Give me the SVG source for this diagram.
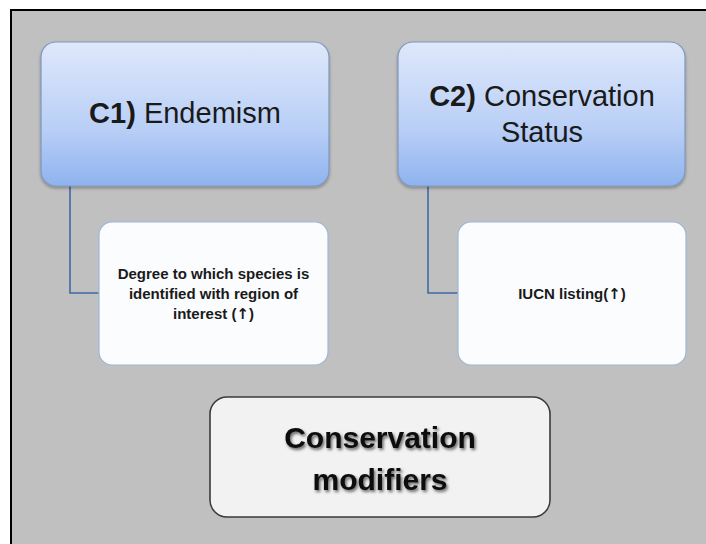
<svg xmlns="http://www.w3.org/2000/svg" width="706" height="544" viewBox="0 0 706 544">
<defs>
<linearGradient id="blueGrad" x1="0" y1="0" x2="0" y2="1">
<stop offset="0" stop-color="#dfe8fb"/>
<stop offset="0.6" stop-color="#b9cff6"/>
<stop offset="1" stop-color="#8fb3ef"/>
</linearGradient>
<filter id="boxShadow" x="-10%" y="-10%" width="120%" height="125%">
<feDropShadow dx="0" dy="2" stdDeviation="1.5" flood-color="#000" flood-opacity="0.3"/>
</filter>
<filter id="textShadow" x="-10%" y="-20%" width="120%" height="150%">
<feDropShadow dx="1.5" dy="2" stdDeviation="1.6" flood-color="#000" flood-opacity="0.6"/>
</filter>
<style>
.head{fill:url(#blueGrad);stroke:#7d97bd;stroke-width:1.2;filter:url(#boxShadow);}
.child{fill:#fbfcfe;stroke:#9fb6d6;stroke-width:1.2;}
.title{fill:#f2f2f2;stroke:#3a3a3a;stroke-width:1.6;}
.headtxt{font-family:"Liberation Sans",Arial,sans-serif;font-size:29px;fill:#1a1a1a;text-anchor:middle;}
.childtxt{font-family:"Liberation Sans",Arial,sans-serif;font-size:15px;font-weight:bold;fill:#1a1a1a;text-anchor:middle;}
.arrow{font-family:"DejaVu Sans",sans-serif;font-weight:bold;}
.titletxt{font-family:"Liberation Sans",Arial,sans-serif;font-size:30px;font-weight:bold;fill:#111;text-anchor:middle;filter:url(#textShadow);}
.conn{fill:none;stroke:#3e6aa6;stroke-width:1.6;}
</style>
</defs>
<rect x="0" y="0" width="706" height="544" fill="#ffffff"/>
<rect x="11" y="10" width="720" height="560" fill="#c0c0c0" stroke="#000" stroke-width="2"/>

<g id="connectors">
<path class="conn" d="M70,186 V293 H99"/>
<path class="conn" d="M428,186 V293 H458"/>
</g>

<g id="c1">
<rect class="head" x="41" y="42" width="288" height="144" rx="15"/>
<text class="headtxt" x="185" y="123"><tspan font-weight="bold">C1)</tspan> Endemism</text>
</g>

<g id="c2">
<rect class="head" x="398" y="42" width="287" height="144" rx="15"/>
<text class="headtxt" x="542" y="106"><tspan font-weight="bold">C2)</tspan> Conservation</text>
<text class="headtxt" x="542" y="142">Status</text>
</g>

<g id="c1-detail">
<rect class="child" x="99" y="222" width="229" height="143" rx="13"/>
<text class="childtxt" x="213.5" y="279">Degree to which species is</text>
<text class="childtxt" x="213.5" y="299">identified with region of</text>
<text class="childtxt" x="213.5" y="319">interest (<tspan class="arrow">↑</tspan>)</text>
</g>

<g id="c2-detail">
<rect class="child" x="458" y="222" width="228" height="143" rx="13"/>
<text class="childtxt" x="572" y="299">IUCN listing(<tspan class="arrow">↑</tspan>)</text>
</g>

<g id="title">
<rect class="title" x="210" y="397" width="340" height="120" rx="17"/>
<text class="titletxt" x="380" y="448">Conservation</text>
<text class="titletxt" x="380" y="490">modifiers</text>
</g>
</svg>
